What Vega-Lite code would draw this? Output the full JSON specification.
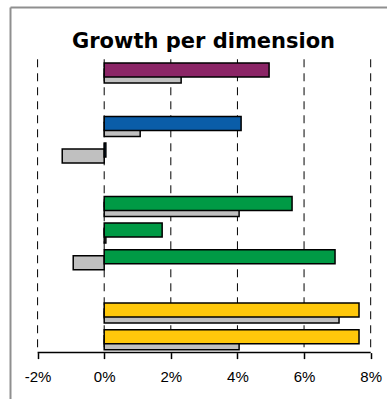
{
  "$schema": "https://vega.github.io/schema/vega-lite/v6.json",
  "autosize": {"type": "none"},
  "width": 377,
  "height": 392,
  "padding": {"left": 10, "top": 7, "right": 0, "bottom": 0},
  "background": "white",
  "config": {
    "view": {"stroke": null}
  },
  "title": {
    "text": "Growth per dimension",
    "font": "DejaVu Sans",
    "fontSize": 21,
    "fontWeight": "bold",
    "color": "black",
    "anchor": "middle",
    "frame": "group",
    "baseline": "alphabetic",
    "offset": -41,
    "dy": 21,
    "dx": 5
  },
  "datasets": {
    "bars": [
      {"slot": "s1", "group": "A", "current": 4.95, "previous": 2.31},
      {"slot": "s3", "group": "B", "current": 4.11, "previous": 1.08},
      {"slot": "s4", "group": "B", "current": 0.05, "previous": -1.26},
      {"slot": "s6", "group": "C", "current": 5.64, "previous": 4.05},
      {"slot": "s7", "group": "C", "current": 1.74, "previous": 0.05},
      {"slot": "s8", "group": "C", "current": 6.93, "previous": -0.93},
      {"slot": "s10", "group": "D", "current": 7.65, "previous": 7.05},
      {"slot": "s11", "group": "D", "current": 7.65, "previous": 4.05}
    ],
    "ticks": [{"t": -2}, {"t": 0}, {"t": 2}, {"t": 4}, {"t": 6}, {"t": 8}]
  },
  "resolve": {"axis": {"x": "independent"}},
  "encoding": {
    "y": {
      "field": "slot",
      "type": "nominal",
      "scale": {
        "domain": ["p0", "s1", "s2", "s3", "s4", "s5", "s6", "s7", "s8", "s9", "s10", "s11", "p12"],
        "paddingInner": 0,
        "paddingOuter": 0.85,
        "align": 0.565
      },
      "axis": {
        "domain": true,
        "domainColor": "#8f8f8f",
        "domainWidth": 2,
        "labels": false,
        "ticks": false,
        "grid": false,
        "title": null
      }
    }
  },
  "layer": [
    {
      "data": {"name": "ticks"},
      "mark": {"type": "rule", "color": "black", "strokeWidth": 1, "strokeDash": [8, 6]},
      "encoding": {
        "x": {
          "field": "t",
          "type": "quantitative",
          "scale": {"domain": [-2.828, 8.49], "nice": false, "zero": false},
          "axis": {
            "values": [-2, 0, 2, 4, 6, 8],
            "labelExpr": "datum.value + '%'",
            "domain": false,
            "grid": false,
            "ticks": true,
            "tickSize": 6,
            "tickColor": "black",
            "tickWidth": 1.5,
            "offset": -46.4,
            "labelFont": "Liberation Sans",
            "labelFontSize": 15,
            "labelColor": "black",
            "labelPadding": 11,
            "title": null
          }
        },
        "y": {"datum": "s1", "bandPosition": 0},
        "y2": {"datum": "s11", "bandPosition": 1}
      }
    },
    {
      "data": {"name": "bars"},
      "mark": {"type": "bar", "size": 14, "yOffset": 3.5, "fill": "#C0C0C0", "stroke": "black", "strokeWidth": 1.5},
      "encoding": {
        "x": {
          "field": "previous",
          "type": "quantitative",
          "scale": {"domain": [-2.828, 8.49], "nice": false, "zero": false},
          "axis": {
            "orient": "top",
            "domain": true,
            "domainColor": "#8f8f8f",
            "domainWidth": 2,
            "labels": false,
            "ticks": false,
            "grid": false,
            "title": null
          }
        },
        "x2": {"datum": 0}
      }
    },
    {
      "data": {"name": "bars"},
      "mark": {"type": "bar", "size": 14, "yOffset": -2.5, "stroke": "black", "strokeWidth": 1.5},
      "encoding": {
        "x": {
          "field": "current",
          "type": "quantitative",
          "scale": {"domain": [-2.828, 8.49], "nice": false, "zero": false},
          "axis": null
        },
        "x2": {"datum": 0},
        "fill": {
          "field": "group",
          "type": "nominal",
          "scale": {"domain": ["A", "B", "C", "D"], "range": ["#8B2566", "#0A5DA8", "#009A45", "#FFC80B"]},
          "legend": null
        }
      }
    },
    {
      "data": {"values": [{}]},
      "mark": {"type": "rule", "color": "black", "strokeWidth": 1.5},
      "encoding": {
        "x": {"datum": -2, "type": "quantitative", "axis": null},
        "x2": {"datum": 8},
        "y": {"datum": "s11", "bandPosition": 1}
      }
    }
  ]
}
